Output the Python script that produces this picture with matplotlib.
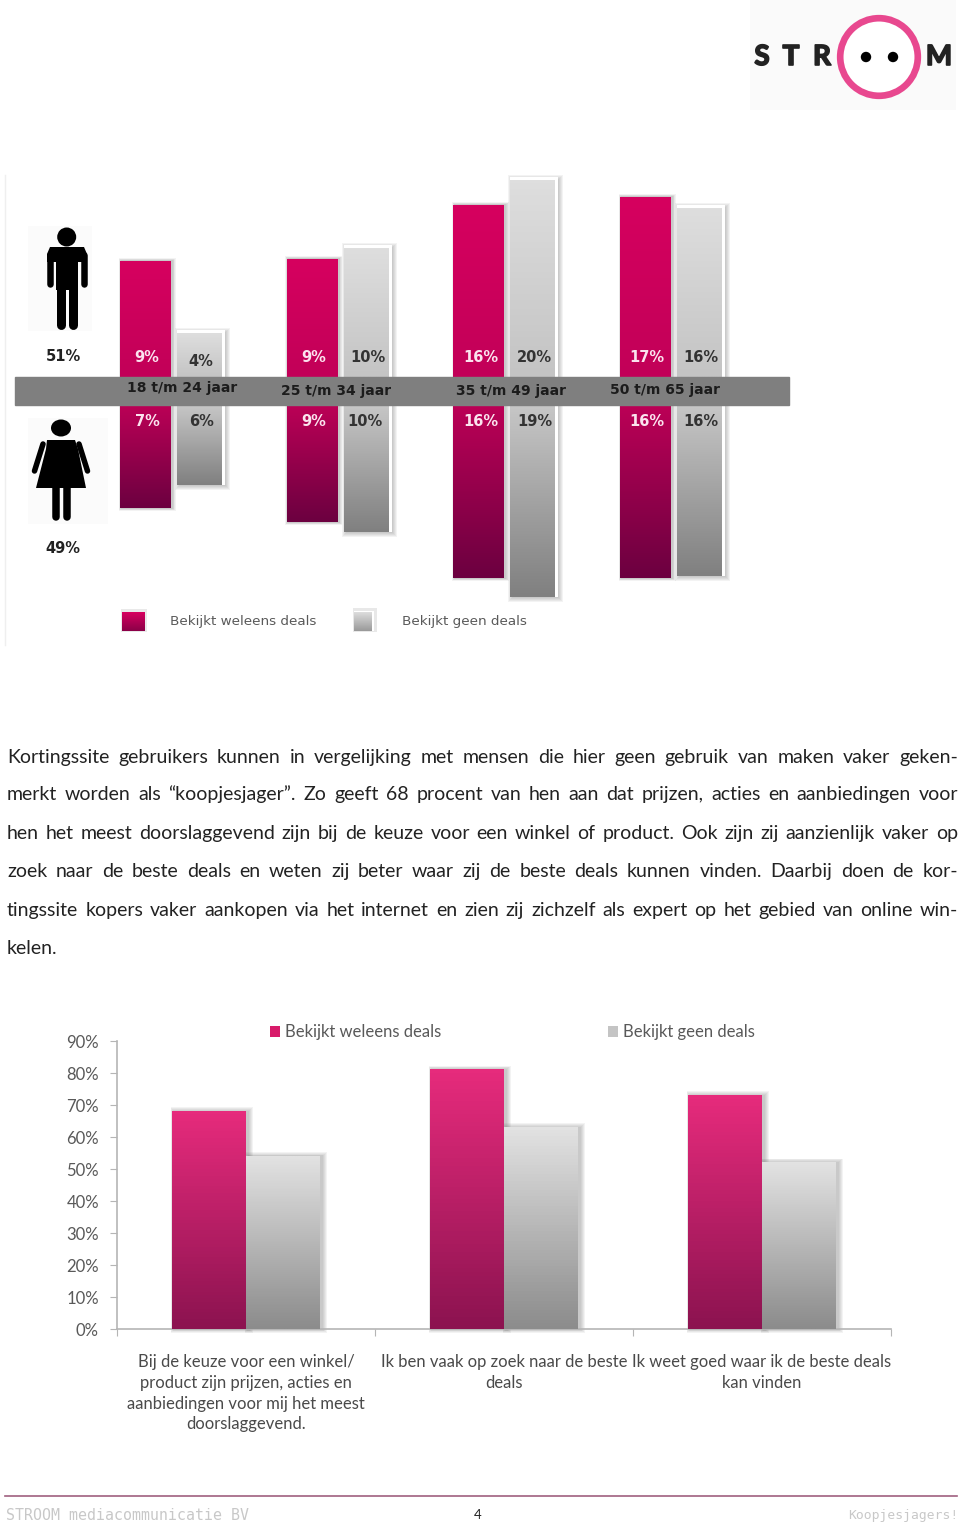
import numpy as np
import matplotlib
matplotlib.use('Agg')
import matplotlib.pyplot as plt
import matplotlib.patheffects as pe
from matplotlib.colors import LinearSegmentedColormap
from matplotlib.patches import Rectangle, Circle, Ellipse, Polygon
from matplotlib.transforms import IdentityTransform

W, H = 960, 1523

# age chart (bar lengths, 1 unit = 10 px)
age_groups = ['18 t/m 24 jaar', '25 t/m 34 jaar', '35 t/m 49 jaar', '50 t/m 65 jaar']
men_deals = [11.6, 11.8, 17.2, 18.0]
men_nodeals = [4.4, 12.9, 19.7, 16.9]
women_deals = [10.3, 11.7, 17.3, 17.3]
women_nodeals = [8.0, 12.7, 19.2, 17.1]
men_deals_lbl = ['9%', '9%', '16%', '17%']
men_nodeals_lbl = ['4%', '10%', '20%', '16%']
women_deals_lbl = ['7%', '9%', '16%', '16%']
women_nodeals_lbl = ['6%', '10%', '19%', '16%']
gender_lbl = ['51%', '49%']

# statements chart
statements = ['Bij de keuze voor een winkel/\nproduct zijn prijzen, acties en\naanbiedingen voor mij het meest\ndoorslaggevend.',
              'Ik ben vaak op zoek naar de beste\ndeals',
              'Ik weet goed waar ik de beste deals\nkan vinden']
deals = [68, 81, 73]
nodeals = [54, 63, 52]
pct_ticks = [0, 10, 20, 30, 40, 50, 60, 70, 80, 90]
series_names = ['Bekijkt weleens deals', 'Bekijkt geen deals']

paragraph = [
    'Kortingssite gebruikers kunnen in vergelijking met mensen die hier geen gebruik van maken vaker geken-',
    'merkt worden als “koopjesjager”. Zo geeft 68 procent van hen aan dat prijzen, acties en aanbiedingen voor',
    'hen het meest doorslaggevend zijn bij de keuze voor een winkel of product. Ook zijn zij aanzienlijk vaker op',
    'zoek naar de beste deals en weten zij beter waar zij de beste deals kunnen vinden. Daarbij doen de kor-',
    'tingssite kopers vaker aankopen via het internet en zien zij zichzelf als expert op het gebied van online win-',
    'kelen.',
]


def grad(c1, c2):
    return LinearSegmentedColormap.from_list('g', [c1, c2])


def shadow(fig, bb, dx, dy, grow, alpha=0.07, color='#555555', n=5):
    # soft shadow from stacked see-through rectangles, in pixels, behind all axes
    for k in range(n):
        g = grow * (n - k) / n
        fig.add_artist(Rectangle((bb.x0 + dx - g, bb.y0 + dy - g), bb.width + 2 * g, bb.height + 2 * g,
                                 transform=IdentityTransform(), fc=color, ec='none', alpha=alpha, zorder=-1))


def gradient_bars(ax, bars, c1, c2, z=3):
    # fill each bar with a vertical gradient, top colour first
    for b in bars:
        x, y, w, h = b.get_x(), b.get_y(), b.get_width(), b.get_height()
        ax.imshow(np.linspace(0, 1, 64).reshape(-1, 1), cmap=grad(c1, c2), aspect='auto',
                  extent=(x, x + w, y, y + h), zorder=z, origin='upper')


fig = plt.figure(figsize=(W / 100, H / 100), dpi=100)
fig.patch.set_facecolor('white')
plt.rcParams['font.family'] = ['Lato', 'DejaVu Sans']


# ---- age chart ----
top_px, bot_px = 170, 650
ax = fig.add_axes([0, 1 - bot_px / H, 1, (bot_px - top_px) / H])
ax.patch.set_alpha(0)
ax.axis('off')
ax.set_xlim(-145.5 / 166.7, (W - 145.5) / 166.7)
ax.set_ylim((391 - bot_px) / 10, (391 - top_px) / 10)
ax.set_autoscale_on(False)

x = np.arange(len(age_groups))
pink_w = 51 / 166.7
gray_w = 45 / 166.7
gray_x = x + 54 / 166.7
band = 1.4

b1 = ax.bar(x, men_deals, pink_w, bottom=band, color='none', zorder=3)
b2 = ax.bar(gray_x, men_nodeals, gray_w, bottom=band, color='none', zorder=3)
b3 = ax.bar(x, women_deals, pink_w, bottom=-band - np.array(women_deals), color='none', zorder=3)
b4 = ax.bar(gray_x, women_nodeals, gray_w, bottom=-band - np.array(women_nodeals), color='none', zorder=3)
fig.canvas.draw()
for b in list(b1) + list(b3):
    shadow(fig, b.get_window_extent(), 1.5, 0, 3)
for b in list(b2) + list(b4):
    bb = b.get_window_extent()
    shadow(fig, bb, 3, 0, 5)
    ax.add_patch(Rectangle((bb.x0, bb.y0), bb.width + 3, bb.height + 3, transform=IdentityTransform(),
                           fc='white', ec='none', zorder=2))
gradient_bars(ax, b1, '#d6005f', '#c20058')
gradient_bars(ax, b2, '#dedede', '#c4c4c4')
gradient_bars(ax, b3, '#bb0056', '#6c0040')
gradient_bars(ax, b4, '#c6c6c6', '#808080')
ax.axhspan(-band, band, 15 / W, 789 / W, color='#7f7f7f', zorder=4)

# small nudges, the labels in the picture are not perfectly lined up
bold = dict(family='DejaVu Sans', fontweight='bold', ha='center', va='center', zorder=6)
for i in x:
    ax.text(i + 0.01, 3.4, men_deals_lbl[i], color='#fbe3ee', fontsize=10.5, **bold)
    ax.text(gray_x[i] + 0.01, 3.3 - (0.3 if i == 0 else 0), men_nodeals_lbl[i], color='#333333', fontsize=10.5, **bold)
    ax.text(i + 0.01, -3.0, women_deals_lbl[i], color='#fbe3ee', fontsize=10.5, **bold)
    ax.text(gray_x[i] + (-0.01 if i == 1 else 0.01), -3.05, women_nodeals_lbl[i], color='#333333', fontsize=10.5, **bold)
age_x = [182, 336, 511, 665]
age_y = [388, 391, 391, 390]
for i, lab in enumerate(age_groups):
    ax.text((age_x[i] - 145.5) / 166.7, (391 - age_y[i]) / 10, lab, color='#1c1c1c', fontsize=10, **bold)


# ---- overlay in page pixels: logo, figures, text, footer ----
ov = fig.add_axes([0, 0, 1, 1], zorder=5)
ov.patch.set_alpha(0)
ov.axis('off')
ov.set_xlim(0, W)
ov.set_ylim(H, 0)

# logo
ov.add_patch(Rectangle((750, 0), 206, 110, fc='#fafafa', ec='none', zorder=0))
ov.add_patch(Circle((879, 57), 38.8, fc='white', ec='#e8488f', lw=4.8))
ov.add_patch(Circle((866, 57), 5.2, fc='black', ec='none'))
ov.add_patch(Circle((893, 57), 5.2, fc='black', ec='none'))
for lx, ch in zip([762, 791, 822, 939], 'STRM'):
    ov.text(lx, 57, ch, fontsize=20, fontweight='bold', color='#222222', ha='center', va='center', family='Lato',
            path_effects=[pe.withStroke(linewidth=1.2, foreground='#222222')])

# faint panels behind the figures and chart edge
ov.plot([5, 5], [175, 645], color='#efefef', lw=1)
ov.add_patch(Rectangle((28, 226), 64, 105, fc='#fbfbfb', ec='none', zorder=0))
ov.add_patch(Rectangle((28, 418), 80, 106, fc='#fbfbfb', ec='none', zorder=0))

# man
lw_px = 0.72
ov.add_patch(Circle((66.7, 237), 9.5, fc='black', ec='none'))
ov.add_patch(Polygon([(50, 247), (84, 247), (87, 254), (87, 262), (47, 262), (47, 254)], fc='black', ec='none'))
ov.add_patch(Rectangle((56, 255), 21.5, 35, fc='black', ec='none'))
for ax_x in (50, 83.5):
    ov.plot([ax_x, ax_x], [255, 284], color='black', lw=6.5 * lw_px, solid_capstyle='round')
for ax_x in (60.7, 72.7):
    ov.plot([ax_x, ax_x], [285, 325], color='black', lw=9 * lw_px, solid_capstyle='round')

# woman
ov.add_patch(Ellipse((61, 428), 20, 17, fc='black', ec='none'))
ov.add_patch(Polygon([(47, 440), (75, 440), (78, 449), (86, 488), (36, 488), (46, 449)], fc='black', ec='none'))
ov.plot([43, 34.5], [444, 471], color='black', lw=5.5 * lw_px, solid_capstyle='round')
ov.plot([79, 87.5], [444, 471], color='black', lw=5.5 * lw_px, solid_capstyle='round')
for ax_x in (55.5, 66.7):
    ov.plot([ax_x, ax_x], [488, 517], color='black', lw=7.5 * lw_px, solid_capstyle='round')

for y0, lab in zip([356, 548], gender_lbl):
    ov.text(63, y0, lab, color='#222222', fontsize=10.5, family='DejaVu Sans', fontweight='bold', ha='center', va='center')

# legend of the age chart
ov.add_patch(Rectangle((121, 609), 26, 23, fc='#888888', ec='none', alpha=0.18, zorder=1))
ov.add_patch(Rectangle((353, 608), 24, 24, fc='#999999', ec='none', alpha=0.22, zorder=1))
ov.add_patch(Rectangle((354, 611), 20, 20, fc='white', ec='none', zorder=1.5))
for lx, rx, name, c1, c2 in [(122, 145, series_names[0], '#d6005f', '#8c0048'), (354, 372, series_names[1], '#dcdcdc', '#9a9a9a')]:
    ov.imshow(np.linspace(0, 1, 32).reshape(-1, 1), cmap=grad(c1, c2), aspect='auto',
              extent=(lx, rx, 631, 612), zorder=2)
    ov.text(lx + 47.5, 621, name, color='#5a5a5a', fontsize=9.7, family='DejaVu Sans', va='center')
ov.set_xlim(0, W)
ov.set_ylim(H, 0)

# justified paragraph
renderer = fig.canvas.get_renderer()
line_y = [757, 794, 833, 871, 910, 948]
left, right = 7, 958
for k, line in enumerate(paragraph):
    words = line.split(' ')
    items = [ov.text(0, line_y[k], w, fontsize=14, color='#222222', va='center', family='Lato') for w in words]
    widths = [t.get_window_extent(renderer).width for t in items]
    gap = (right - left - sum(widths)) / (len(words) - 1) if k < len(paragraph) - 1 else 0
    pos = left
    for t, w in zip(items, widths):
        t.set_x(pos)
        pos += w + gap

# footer
ov.plot([5, 957], [1496, 1496], color='#a0607f', lw=1.2)
ov.text(6, 1515, 'STROOM mediacommunicatie BV', color='#c8c8c8', fontsize=10.7, family='DejaVu Sans Mono', va='center')
ov.text(478, 1515, '4', color='#222222', fontsize=9.5, family='Lato', ha='center', va='center')
ov.text(958, 1515, 'Koopjesjagers!', color='#c8c8c8', fontsize=9.4, family='DejaVu Sans Mono', ha='right', va='center')


# ---- statements chart ----
ax2 = fig.add_axes([117 / W, 1 - 1329 / H, (891 - 117) / W, 288 / H])
ax2.patch.set_alpha(0)
ax2.set_xlim(0, 3)
ax2.set_ylim(0, 90)
ax2.set_autoscale_on(False)
for s in ('top', 'right'):
    ax2.spines[s].set_visible(False)
for s in ('left', 'bottom'):
    ax2.spines[s].set_color('#b5b5b5')
    ax2.spines[s].set_linewidth(1.2)
pos = np.arange(3) + 0.5
bw = 74 / 258
d = ax2.bar(pos - bw / 2, deals, bw, color='none', zorder=3)
n = ax2.bar(pos + bw / 2, nodeals, bw, color='none', zorder=3)
fig.canvas.draw()
for b in list(d) + list(n):
    shadow(fig, b.get_window_extent(), 2.5, 0, 4, alpha=0.07)
gradient_bars(ax2, d, '#e62b7c', '#8c1350')
gradient_bars(ax2, n, '#e2e2e2', '#8c8c8c')
ax2.set_yticks(pct_ticks)
ax2.set_yticklabels([f'{v}%' for v in pct_ticks], fontsize=12, color='#595959')
ax2.tick_params(axis='y', color='#b5b5b5', length=5, pad=8)
ax2.set_xticks([0, 1, 2, 3])
ax2.set_xticklabels([])
ax2.set_xticks(pos, statements, minor=True, fontsize=12, color='#4a4a4a', linespacing=1.37)
ax2.tick_params(axis='x', which='major', color='#b5b5b5', length=5)
ax2.tick_params(axis='x', which='minor', length=0, pad=18)

ax2.bar([0], [0], color='#d81b6a', label=series_names[0])
ax2.bar([0], [0], color='#c4c4c4', label=series_names[1])
h, l = ax2.get_legend_handles_labels()
ax2.legend(h[-2:], l[-2:], ncols=2, frameon=False, fontsize=12, labelcolor='#595959', loc='center left',
           bbox_to_anchor=(153 / 774, 1.03), handlelength=0.6, handleheight=0.6, handletextpad=0.3,
           columnspacing=10.0, borderpad=0, borderaxespad=0)

fig.savefig('out.png', dpi=100)
